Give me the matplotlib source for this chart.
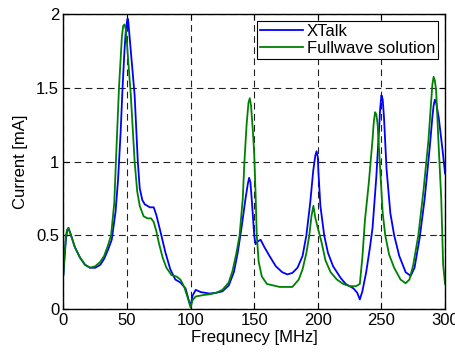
import matplotlib.pyplot as plt

# XTalk result
xtalk_f = [0, 1, 2, 3, 4, 6, 9, 13, 17, 21, 25, 29, 32, 35, 38, 41, 43, 45, 46.5, 48, 49, 50, 50.5,
           51, 52, 54, 56, 58.5, 60, 62, 64, 68, 71, 73, 75, 77, 80, 84, 88, 92, 96, 98.5, 100,
           101.5, 104, 108, 115, 120, 125, 130, 134, 137, 140, 143, 145, 146, 147, 148, 150, 151,
           153, 155, 158, 162, 167, 172, 176, 180, 184, 188, 191, 194, 196.4, 198, 199, 200,
           200.4, 202, 205, 208, 212, 218, 222, 228, 231, 233, 235, 238, 241, 243, 246, 248, 249,
           250, 251, 252, 254, 257, 260, 264, 269, 273, 276, 280, 284, 288, 290, 291, 292, 293,
           295, 298, 300]
xtalk_i = [0.23, 0.36, 0.47, 0.53, 0.55, 0.5, 0.42, 0.35, 0.3, 0.28, 0.28, 0.3, 0.34, 0.4, 0.47,
           0.66, 0.88, 1.2, 1.5, 1.75, 1.88, 1.95, 1.97, 1.95, 1.85, 1.65, 1.45, 1.0, 0.82, 0.74,
           0.71, 0.69, 0.69, 0.64, 0.57, 0.5, 0.39, 0.27, 0.2, 0.18, 0.14, 0.06, 0.02, 0.09, 0.13,
           0.115, 0.105, 0.11, 0.12, 0.16, 0.25, 0.38, 0.55, 0.74, 0.85, 0.89, 0.86, 0.75, 0.5,
           0.44, 0.46, 0.47, 0.42, 0.36, 0.29, 0.25, 0.235, 0.245, 0.28, 0.36, 0.5, 0.72, 0.94,
           1.04, 1.07, 1.03, 0.94, 0.7, 0.5, 0.38, 0.29, 0.21, 0.17, 0.14, 0.11, 0.065, 0.12,
           0.25, 0.42, 0.55, 0.9, 1.2, 1.36, 1.45, 1.42, 1.3, 0.95, 0.65, 0.5, 0.36, 0.25, 0.225,
           0.28, 0.48, 0.75, 1.1, 1.3, 1.38, 1.42, 1.4, 1.3, 1.08, 0.92]

# Fullwave solution
full_f = [0, 1, 2, 3, 4, 6, 9, 13, 17, 21, 25, 29, 32, 35, 37.5, 40, 41.3, 43.7, 46, 47, 48, 49,
          50, 51, 53, 56, 58, 60, 63, 66, 69, 71, 73, 75, 78, 81, 85, 89, 92, 95, 98, 100, 101.5,
          104, 110, 115, 120, 125, 130, 133, 136, 138.5, 141, 142.3, 144, 145.5, 146.5, 147.5,
          149, 150, 151, 152, 153.5, 156, 160, 170, 180, 185, 188, 191, 193.3, 195, 196.5, 198,
          200, 203, 206, 210, 215, 220, 225, 230, 233, 235, 237, 240, 243, 244, 245, 246, 247,
          249, 251, 253, 256, 260, 265, 269, 272, 275, 279, 283, 287, 289, 290, 291, 292, 293,
          295, 297, 298.5, 300]
full_i = [0.24, 0.38, 0.5, 0.54, 0.55, 0.5, 0.42, 0.35, 0.3, 0.28, 0.29, 0.32, 0.36, 0.43, 0.5,
          0.72, 1.0, 1.5, 1.85, 1.92, 1.93, 1.9, 1.8, 1.68, 1.45, 1.0, 0.8, 0.7, 0.63, 0.615,
          0.615, 0.59, 0.53, 0.45, 0.35, 0.28, 0.23, 0.22, 0.2, 0.15, 0.07, 0.01, 0.06, 0.085,
          0.095, 0.1, 0.11, 0.13, 0.18, 0.26, 0.38, 0.5, 0.75, 1.0, 1.25, 1.4, 1.43, 1.38, 1.2,
          1.05, 0.8, 0.5, 0.32, 0.22, 0.17, 0.15, 0.15, 0.2, 0.27, 0.38, 0.5, 0.63, 0.7, 0.62,
          0.55, 0.45, 0.33, 0.25, 0.2, 0.17, 0.155, 0.155, 0.17, 0.35, 0.6, 0.85, 1.15, 1.27,
          1.335, 1.32, 1.25, 0.95, 0.65, 0.5, 0.37, 0.28, 0.2, 0.175, 0.2, 0.3, 0.5, 0.8, 1.15,
          1.4, 1.52, 1.575, 1.55, 1.48, 1.1, 0.75, 0.3, 0.17]

plt.rcParams['font.family'] = ['Liberation Sans', 'DejaVu Sans']

fig = plt.figure(figsize=(4.56, 3.54), dpi=100)
ax = fig.add_axes([0.139, 0.127, 0.837, 0.833])

ax.plot(xtalk_f, xtalk_i, color='#0000FF', lw=1.3, label='XTalk')
ax.plot(full_f, full_i, color='#008000', lw=1.3, label='Fullwave solution')

ax.set_xlim(0, 300)
ax.set_ylim(0, 2)
ax.set_xticks([0, 50, 100, 150, 200, 250, 300])
ax.set_yticks([0, 0.5, 1, 1.5, 2])
ax.set_yticklabels(['0', '0.5', '1', '1.5', '2'])

ax.grid(True, color='#222222', linestyle=(0, (6, 4)), lw=0.8)
ax.tick_params(direction='in', top=True, right=True, length=4, labelsize=12, pad=3, color='k')
for sp in ax.spines.values():
    sp.set_color('k')
    sp.set_linewidth(1.0)

ax.set_xlabel('Frequnecy [MHz]', fontsize=12, labelpad=1)
ax.set_ylabel('Current [mA]', fontsize=12, labelpad=6)

leg = ax.legend(loc='upper right', fontsize=12, fancybox=False, framealpha=1,
                edgecolor='k', borderpad=0.2, labelspacing=0.1, handlelength=2.6,
                handletextpad=0.2, borderaxespad=0.4)
leg.get_frame().set_linewidth(0.8)

fig.savefig('out.png', dpi=100)
